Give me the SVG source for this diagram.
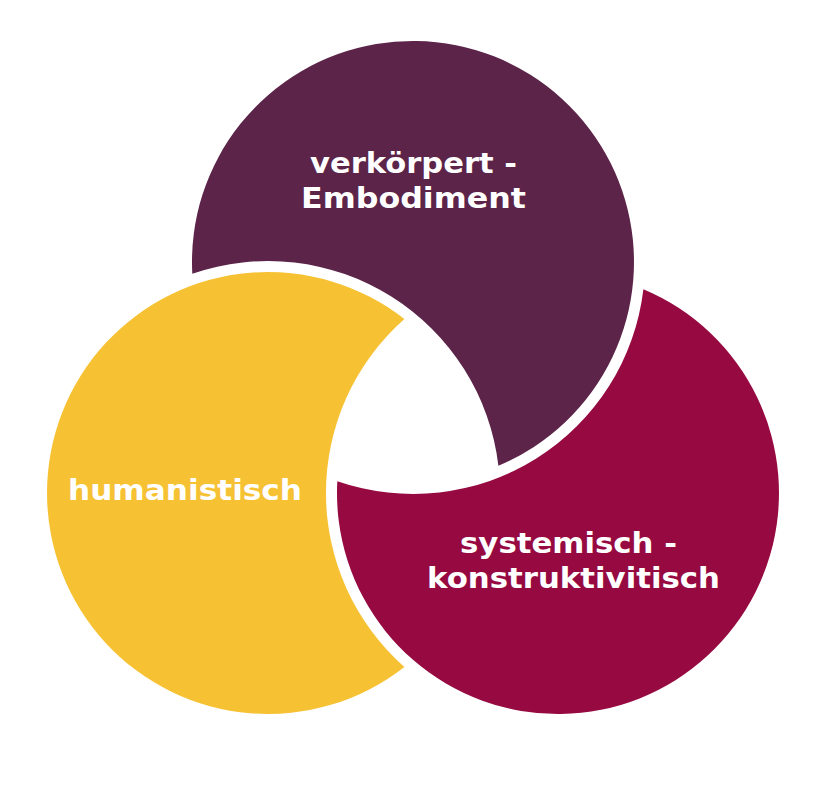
<svg xmlns="http://www.w3.org/2000/svg" width="831" height="797" viewBox="0 0 831 797">
  <style>
    .lbl { font-family: "DejaVu Sans", "Liberation Sans", sans-serif; font-weight: bold; font-size: 29px; fill: #ffffff; }
  </style>
  <rect x="0" y="0" width="831" height="797" fill="#ffffff"/>
  <g id="node-embodiment">
    <path d="M 192.3 273.7 A 221 221 0 1 1 498.4 465.8 A 232 232 0 0 0 192.3 273.7 Z" fill="#5b2448"/>
    <text class="lbl" x="310" y="173" textLength="207" lengthAdjust="spacingAndGlyphs">verkörpert -</text>
    <text class="lbl" x="301" y="208" textLength="225" lengthAdjust="spacingAndGlyphs">Embodiment</text>
  </g>
  <g id="node-humanistisch">
    <path d="M 404.4 319.1 A 221 221 0 1 0 404.4 666.9 A 232 232 0 0 1 404.4 319.1 Z" fill="#f6c234"/>
    <text class="lbl" x="68" y="500" textLength="234" lengthAdjust="spacingAndGlyphs">humanistisch</text>
  </g>
  <g id="node-systemisch">
    <path d="M 643.4 289.2 A 221 221 0 1 1 337.3 481.3 A 232 232 0 0 0 643.4 289.2 Z" fill="#960a41"/>
    <text class="lbl" x="460" y="553" textLength="217" lengthAdjust="spacingAndGlyphs">systemisch -</text>
    <text class="lbl" x="427" y="588" textLength="293" lengthAdjust="spacingAndGlyphs">konstruktivitisch</text>
  </g>
</svg>
